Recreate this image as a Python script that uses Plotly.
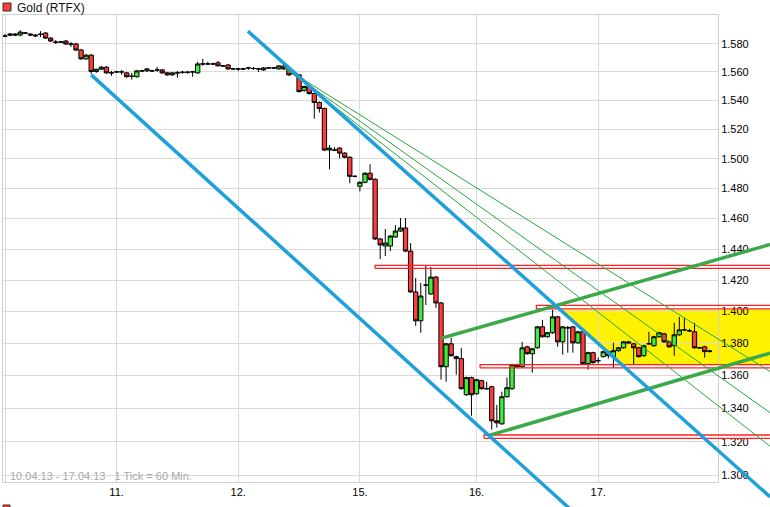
import math
import plotly.graph_objects as go

# ---------------- data (hourly candles, 10.04.13 - 17.04.13) ----------------
opens = [1585.4, 1586.0, 1586.9, 1586.2, 1587.6, 1586.9, 1586.2, 1586.9, 1587.6, 1584.0,
         1581.2, 1581.2, 1581.9, 1579.8, 1579.8, 1575.5, 1569.2, 1571.8, 1560.3, 1561.9,
         1563.3, 1559.3, 1560.0, 1560.0, 1559.3, 1556.9, 1556.6, 1560.7, 1560.7, 1560.7,
         1561.4, 1561.4, 1559.3, 1557.9, 1559.3, 1559.7, 1559.7, 1560.0, 1559.3, 1565.6,
         1565.6, 1565.6, 1566.4, 1564.2, 1564.9, 1562.1, 1562.1, 1562.1, 1562.8, 1562.4,
         1562.1, 1561.4, 1562.8, 1562.8, 1562.1, 1564.2, 1562.1, 1558.6, 1557.9, 1546.9,
         1549.7, 1544.8, 1538.6, 1534.4, 1505.9, 1505.9, 1507.2, 1503.8, 1501.0, 1488.1,
         1481.4, 1484.1, 1490.2, 1486.1, 1446.6, 1442.0, 1442.0, 1447.9, 1451.8, 1453.8,
         1438.7, 1412.4, 1394.1, 1416.8, 1411.1, 1421.9, 1405.4, 1365.5, 1379.7, 1371.7,
         1370.5, 1348.3, 1358.8, 1348.9, 1356.9, 1352.0, 1353.2, 1332.5, 1330.7, 1347.1,
         1352.0, 1366.8, 1365.5, 1377.8, 1373.5, 1377.2, 1390.3, 1384.1, 1386.6, 1396.6,
         1380.9, 1389.7, 1390.3, 1380.3, 1387.2, 1367.4, 1374.2, 1369.2, 1371.7, 1374.8,
         1371.7, 1375.4, 1377.2, 1380.9, 1379.7, 1377.2, 1372.3, 1379.7, 1378.5, 1384.1,
         1385.9, 1380.9, 1378.5, 1385.3, 1388.4, 1387.8, 1387.2, 1377.2, 1377.8, 1375.1]
highs = [1586.9, 1587.6, 1587.6, 1589.7, 1588.3, 1587.6, 1586.9, 1589.0, 1588.3, 1584.7,
         1582.6, 1581.9, 1582.6, 1581.2, 1580.5, 1576.3, 1572.7, 1572.7, 1562.1, 1564.2,
         1564.2, 1560.7, 1560.7, 1561.4, 1560.0, 1559.3, 1561.4, 1561.4, 1562.8, 1561.4,
         1563.5, 1562.1, 1560.0, 1560.0, 1560.7, 1560.7, 1560.7, 1560.7, 1567.1, 1569.2,
         1567.1, 1566.4, 1567.8, 1564.9, 1565.6, 1562.8, 1562.8, 1562.8, 1563.5, 1563.5,
         1562.8, 1563.5, 1563.5, 1563.5, 1564.9, 1564.9, 1562.8, 1560.0, 1558.6, 1550.4,
         1550.4, 1545.5, 1539.3, 1535.1, 1509.3, 1507.9, 1507.9, 1504.5, 1501.7, 1488.8,
         1484.8, 1490.9, 1496.3, 1486.8, 1447.2, 1453.1, 1449.2, 1455.7, 1460.3, 1460.3,
         1443.9, 1421.3, 1418.1, 1429.7, 1428.4, 1422.6, 1406.0, 1380.3, 1383.4, 1372.3,
         1377.2, 1359.4, 1359.4, 1358.1, 1357.5, 1356.3, 1353.8, 1342.1, 1350.2, 1358.8,
         1367.4, 1367.4, 1380.9, 1378.5, 1377.2, 1390.9, 1394.7, 1387.2, 1400.9, 1397.2,
         1390.9, 1390.9, 1390.9, 1387.8, 1387.8, 1374.8, 1374.8, 1371.1, 1375.4, 1375.4,
         1380.3, 1377.8, 1381.5, 1381.5, 1380.3, 1377.8, 1379.1, 1387.2, 1384.7, 1387.2,
         1386.6, 1381.5, 1392.8, 1396.6, 1396.0, 1389.0, 1392.8, 1377.8, 1378.5, 1376.0]
lows = [1584.7, 1585.4, 1585.4, 1585.4, 1586.9, 1585.4, 1584.7, 1584.7, 1583.3, 1581.2,
        1579.8, 1580.5, 1579.1, 1577.7, 1574.8, 1568.5, 1568.5, 1558.6, 1559.3, 1561.4,
        1558.6, 1557.2, 1559.3, 1557.9, 1555.9, 1554.5, 1555.9, 1560.0, 1560.0, 1560.0,
        1560.0, 1558.6, 1557.2, 1557.2, 1555.9, 1558.6, 1558.6, 1556.6, 1558.6, 1564.2,
        1564.9, 1564.9, 1564.2, 1563.5, 1561.4, 1561.4, 1560.7, 1561.4, 1561.4, 1561.4,
        1560.0, 1560.7, 1562.1, 1562.1, 1561.4, 1561.4, 1557.2, 1557.9, 1545.5, 1546.2,
        1544.1, 1527.4, 1531.6, 1505.2, 1492.9, 1505.2, 1500.3, 1500.3, 1483.4, 1487.4,
        1478.0, 1483.4, 1485.4, 1445.9, 1433.6, 1435.5, 1438.7, 1447.2, 1451.1, 1438.0,
        1411.8, 1390.9, 1386.6, 1404.1, 1410.5, 1402.2, 1357.5, 1356.3, 1371.7, 1360.6,
        1351.4, 1347.7, 1335.5, 1348.3, 1351.4, 1351.4, 1327.2, 1328.4, 1330.1, 1346.5,
        1351.4, 1364.9, 1364.9, 1372.9, 1361.8, 1376.6, 1383.5, 1383.5, 1385.9, 1377.8,
        1372.9, 1374.2, 1374.2, 1379.7, 1366.8, 1363.7, 1367.4, 1367.4, 1371.1, 1370.5,
        1364.9, 1374.8, 1376.6, 1379.7, 1366.8, 1371.1, 1371.7, 1379.1, 1377.8, 1383.5,
        1380.3, 1377.2, 1372.3, 1384.7, 1387.8, 1387.2, 1376.6, 1376.6, 1371.1, 1374.2]
closes = [1585.4, 1586.9, 1586.2, 1588.3, 1587.6, 1586.2, 1585.6, 1586.6, 1584.0, 1581.9,
          1581.0, 1581.2, 1579.8, 1579.6, 1575.5, 1569.2, 1571.8, 1560.3, 1561.9, 1563.3,
          1559.3, 1559.3, 1560.0, 1560.0, 1556.6, 1556.9, 1560.7, 1560.7, 1562.1, 1560.7,
          1561.4, 1559.3, 1557.9, 1559.3, 1559.3, 1559.7, 1559.7, 1560.0, 1565.6, 1565.6,
          1565.6, 1565.6, 1564.2, 1564.2, 1562.1, 1562.1, 1562.1, 1562.1, 1562.8, 1562.4,
          1562.1, 1562.8, 1562.8, 1562.8, 1564.2, 1562.1, 1557.9, 1559.3, 1546.2, 1549.7,
          1544.8, 1538.6, 1534.4, 1505.9, 1507.2, 1505.9, 1503.8, 1501.0, 1488.1, 1488.1,
          1484.1, 1490.2, 1486.1, 1446.6, 1442.7, 1443.9, 1448.5, 1451.8, 1453.8, 1438.7,
          1412.4, 1394.1, 1409.8, 1416.8, 1421.9, 1405.4, 1365.5, 1379.7, 1372.3, 1370.5,
          1352.0, 1358.8, 1348.3, 1357.5, 1352.0, 1352.0, 1332.5, 1331.3, 1347.1, 1352.6,
          1366.8, 1365.5, 1377.2, 1373.5, 1376.6, 1390.3, 1384.1, 1386.6, 1396.6, 1380.9,
          1390.3, 1389.7, 1380.3, 1387.2, 1367.4, 1374.2, 1368.0, 1369.2, 1374.8, 1372.3,
          1375.4, 1377.2, 1380.9, 1380.3, 1377.2, 1371.7, 1378.5, 1379.7, 1384.1, 1386.6,
          1380.9, 1377.8, 1385.3, 1388.4, 1388.4, 1387.8, 1377.2, 1377.2, 1374.8, 1375.1]
candle_index = list(range(len(opens)))

day_tick_index = [0, 22, 46, 70, 93, 117]
day_tick_text = ["", "11.", "12.", "15.", "16.", "17."]

price_ticks = [1300, 1320, 1340, 1360, 1380, 1400, 1420, 1440, 1460, 1480, 1500, 1520, 1540, 1560, 1580]
price_tick_text = ["1.300", "1.320", "1.340", "1.360", "1.380", "1.400", "1.420", "1.440",
                   "1.460", "1.480", "1.500", "1.520", "1.540", "1.560", "1.580"]

# analyst drawings (candle index, price)
blue_upper_x = [47.9, 150.9]
blue_upper_y = [1589.0, 1287.5]
blue_lower_x = [17.0, 113.4]
blue_lower_y = [1557.9, 1275.3]
fan_start_x = 55.2
fan_start_y = 1562.8
fan_end_x = 150.9
fan_end_y = [1362.5, 1337.4, 1317.3]
green_upper_x = [86.1, 150.9]
green_upper_y = [1383.2, 1443.0]
green_lower_x = [95.3, 150.9]
green_lower_y = [1323.6, 1373.9]
red_box_x0 = [73.0, 104.8, 93.7, 94.5]
red_box_y_low = [1427.5, 1401.6, 1364.8, 1322.0]
red_box_y_high = [1429.4, 1403.8, 1366.8, 1324.0]
box_right_x = 152.0
yellow_x = [109.5, 152.0, 152.0, 121.6]
yellow_y = [1401.3, 1401.3, 1367.1, 1367.1]

# ---------------- layout geometry ----------------
W, H = 770, 507
ML, MR, MT, MB = 3, 0, 15, 0
PW, PH = W - ML - MR, H - MT - MB
main_right_px, main_bottom_px = 718, 482
x_dom_main = [0, (main_right_px - ML) / PW]
y_dom_main = [(H - main_bottom_px) / PH, 1]

x_range = [-0.4, 140.63]
y_range = [math.log10(1296.2), math.log10(1600.6)]
# overlay subplots (drawings that run past the plot frame) share the same scales
x_range_full = [x_range[0], x_range[0] + (x_range[1] - x_range[0]) / x_dom_main[1]]
y_range_full = [y_range[1] - (y_range[1] - y_range[0]) / (1 - y_dom_main[0]), y_range[1]]

def pxx(px):
    return (px - ML) / PW

def pxy(py):
    return 1 - (py - MT) / PH

FONT = "Liberation Sans, Arial, sans-serif"
BLUE = "#1fa0dc"
GREEN = "#3aaa48"
THIN_GREEN = "#2aa63a"
RED = "#ff2020"

fig = go.Figure()

# yellow zone (bottom overlay)
fig.add_trace(go.Scatter(x=yellow_x + [yellow_x[0]], y=yellow_y + [yellow_y[0]], mode="lines",
                         fill="toself", fillcolor="#fff200", line=dict(width=0),
                         xaxis="x", yaxis="y", hoverinfo="skip", showlegend=False))

# candles
fig.add_trace(go.Candlestick(
    x=candle_index, open=opens, high=highs, low=lows, close=closes,
    increasing=dict(fillcolor="#3cf03c", line=dict(color="black", width=1)),
    decreasing=dict(fillcolor="#ff3c3c", line=dict(color="black", width=1)),
    whiskerwidth=0, xaxis="x2", yaxis="y2", showlegend=False, name="Gold (RTFX)"))

# red boxes
for x0, ylo, yhi in zip(red_box_x0, red_box_y_low, red_box_y_high):
    fig.add_trace(go.Scatter(x=[x0, box_right_x, box_right_x, x0, x0],
                             y=[ylo, ylo, yhi, yhi, ylo], mode="lines",
                             line=dict(color=RED, width=1.3), xaxis="x3", yaxis="y3",
                             hoverinfo="skip", showlegend=False))
# thin fan lines
for ye in fan_end_y:
    fig.add_trace(go.Scatter(x=[fan_start_x, fan_end_x], y=[fan_start_y, ye], mode="lines",
                             line=dict(color=THIN_GREEN, width=1), xaxis="x3", yaxis="y3",
                             hoverinfo="skip", showlegend=False))
# thick green channel
for xs, ys in [(green_upper_x, green_upper_y), (green_lower_x, green_lower_y)]:
    fig.add_trace(go.Scatter(x=xs, y=ys, mode="lines", line=dict(color=GREEN, width=3.5),
                             xaxis="x3", yaxis="y3", hoverinfo="skip", showlegend=False))
# blue trend channel
for xs, ys in [(blue_upper_x, blue_upper_y), (blue_lower_x, blue_lower_y)]:
    fig.add_trace(go.Scatter(x=xs, y=ys, mode="lines", line=dict(color=BLUE, width=3.5),
                             xaxis="x3", yaxis="y3", hoverinfo="skip", showlegend=False))

hidden_x = dict(domain=[0, 1], range=x_range_full, visible=False, fixedrange=True)
hidden_y = dict(domain=[0, 1], range=y_range_full, type="log", visible=False, fixedrange=True)

fig.update_layout(
    width=W, height=H,
    margin=dict(l=ML, r=MR, t=MT, b=MB, autoexpand=False),
    paper_bgcolor="white", plot_bgcolor="rgba(0,0,0,0)",
    font=dict(family=FONT, size=11, color="black"),
    showlegend=False,
    boxgap=0.15, boxgroupgap=0,
    xaxis=dict(hidden_x, anchor="y"),
    yaxis=dict(hidden_y, anchor="x"),
    xaxis3=dict(hidden_x, anchor="y3"),
    yaxis3=dict(hidden_y, anchor="x3"),
    xaxis2=dict(domain=x_dom_main, range=x_range, anchor="y2",
                tickmode="array", tickvals=day_tick_index, ticktext=day_tick_text,
                showgrid=True, gridcolor="#dadada", gridwidth=1, zeroline=False,
                showline=True, mirror=True, linecolor="#cfcfcf", linewidth=1,
                ticks="", tickfont=dict(size=11, color="black"),
                rangeslider=dict(visible=False), fixedrange=True, automargin=False),
    yaxis2=dict(domain=y_dom_main, range=y_range, type="log", anchor="x2", side="right",
                tickmode="array", tickvals=price_ticks, ticktext=price_tick_text,
                showgrid=True, gridcolor="#dadada", gridwidth=1, zeroline=False,
                showline=True, mirror=True, linecolor="#cfcfcf", linewidth=1,
                ticks="", tickfont=dict(size=11, color="black"), fixedrange=True,
                automargin=False),
)

# legend-like header and footer
fig.add_shape(type="rect", xref="paper", yref="paper",
              x0=pxx(3), x1=pxx(11), y0=pxy(11), y1=pxy(3),
              fillcolor="#ff3c3c", line=dict(color="#333333", width=1))
fig.add_annotation(xref="paper", yref="paper", x=pxx(15), y=pxy(8), xanchor="left",
                   yanchor="middle", text="Gold (RTFX)", showarrow=False,
                   font=dict(size=12, color="#111111"))
fig.add_annotation(xref="paper", yref="paper", x=pxx(8), y=pxy(476), xanchor="left",
                   yanchor="middle", text="10.04.13 - 17.04.13   1 Tick = 60 Min.", showarrow=False,
                   font=dict(size=11, color="#a8a8a8"))
fig.add_shape(type="rect", xref="paper", yref="paper",
              x0=pxx(3), x1=pxx(10), y0=pxy(512), y1=pxy(505),
              fillcolor="#ff3c3c", line=dict(color="#333333", width=1))
fig.add_annotation(xref="paper", yref="paper", x=pxx(14), y=pxy(504), xanchor="left",
                   yanchor="top", text="Gold (RTFX)", showarrow=False,
                   font=dict(size=12, color="#111111"))

fig.write_html("out.html", config={"displayModeBar": False},
               post_script="document.body.style.margin='0';document.body.style.overflow='hidden';")
